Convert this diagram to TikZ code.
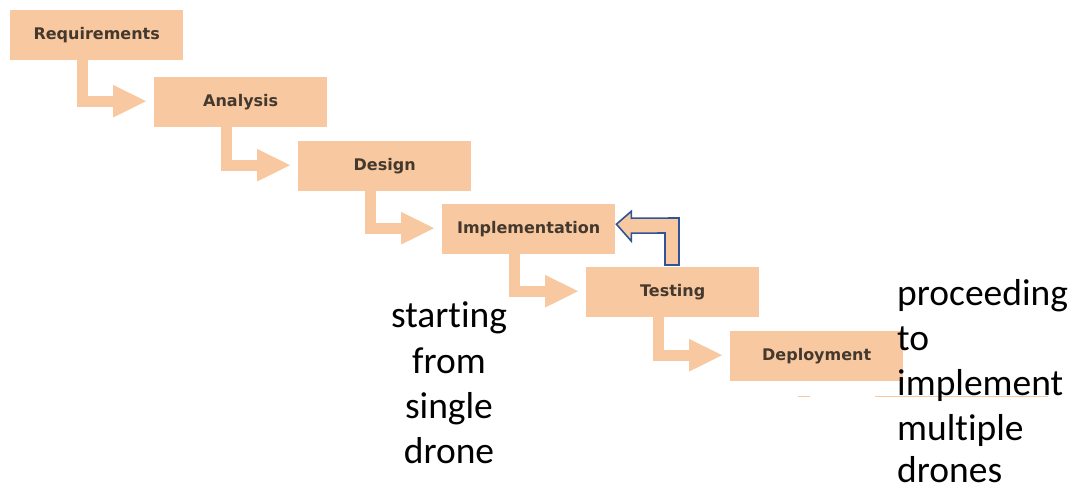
\documentclass[tikz,border=0pt]{standalone}
\usepackage{fontspec}
\newfontfamily\boxfont{DejaVu Sans}
\newfontfamily\notefont[Ligatures={NoCommon}]{Carlito}
\usetikzlibrary{calc,arrows.meta}
\definecolor{peach}{HTML}{F8C9A0}
\definecolor{boxtext}{HTML}{45382D}
\definecolor{fbblue}{HTML}{2F5597}
\begin{document}
\begin{tikzpicture}[x=1pt,y=-1pt,
  stage/.style={fill=peach,draw=none,minimum width=173pt,minimum height=50pt,inner sep=0pt,
    anchor=north west,font=\boxfont\bfseries\fontsize{16}{18}\selectfont,text=boxtext},
  flow/.style={draw=peach,line width=11pt,line join=miter,
    -{Triangle[length=34pt,width=30pt]}},
  note/.style={font=\notefont\fontsize{37.5}{45}\selectfont,text=black,inner sep=0pt,anchor=base}
  ]
\useasboundingbox (0,0) rectangle (1073,490);
\node[stage] (req) at (10,10) {Requirements};
\node[stage] (ana) at (154,77) {Analysis};
\node[stage] (des) at (298,141) {Design};
\node[stage] (imp) at (442,204) {Implementation};
\node[stage] (tes) at (586,267) {Testing};
\node[stage] (dep) at (730,331) {Deployment};
\foreach \a/\b in {req/ana,ana/des,des/imp,imp/tes,tes/dep}{
  \draw[flow] ($(\a.south west)+(72.5,0)$) |- ($(\b.west)+(-7,-1)$);
}
% feedback arrow
\coordinate (fbtip) at ($(imp.east)+(1,-5)$);
\coordinate (fbbase) at ($(tes.north west)+(79,-2)$);
\filldraw[fill=peach,draw=fbblue,line width=1.6pt,line join=miter]
  (fbtip) -- ++(15,-13) -- ++(0,7) -- ($(fbbase)+(14,-47)$) -- ($(fbbase)+(14,0)$)
  -- (fbbase) -- ($(fbbase)+(0,-32)$) -- ($(fbtip)+(15,9)$) -- ($(fbtip)+(15,17)$) -- cycle;
% thin peach lines below deployment
\coordinate (ln1) at ($(dep.south west)+(68,15)$);
\draw[peach,line width=1pt] (ln1) -- ++(12,0);
\draw[peach,line width=1pt] ($(ln1)+(77,0)$) -- ++(173,0);
% notes
\node[note] (s1) at (449,327) {starting};
\node[note] (s2) at (449,373) {from};
\node[note] (s3) at (449,418) {single};
\node[note] (s4) at (449,463) {drone};
\node[note,anchor=base west] (p1) at (897,305) {proceeding};
\node[note,anchor=base west] (p2) at (897,350) {to};
\node[note,anchor=base west] (p3) at (897,395) {implement};
\node[note,anchor=base west] (p4) at (897,440) {multiple};
\node[note,anchor=base west,text depth=0pt] (p5) at (897,482) {drones};
\end{tikzpicture}
\end{document}
